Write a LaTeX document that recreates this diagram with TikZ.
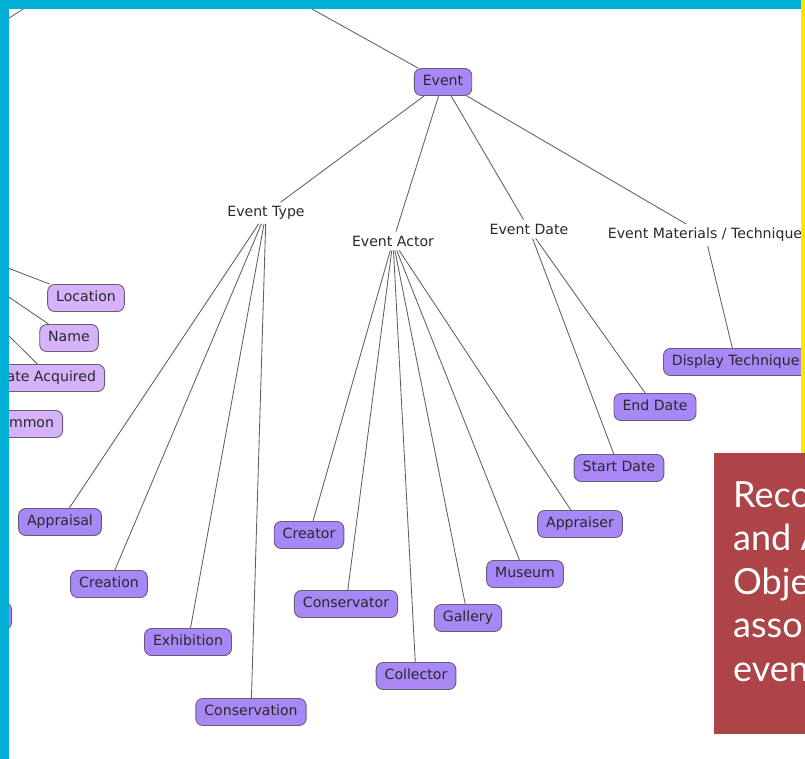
\documentclass[tikz,border=0pt]{standalone}
\usepackage{fontspec}
\setmainfont{DejaVu Sans}
\newfontfamily\slidefont{Lato}
\usepackage{xcolor}
\usepackage{tikz}
\usetikzlibrary{positioning}

\definecolor{framecyan}{RGB}{0,176,212}
\definecolor{edgeyellow}{RGB}{255,230,0}
\definecolor{notered}{RGB}{173,68,72}
\definecolor{leafpurple}{RGB}{168,136,246}
\definecolor{palepurple}{RGB}{214,178,250}
\definecolor{boxline}{RGB}{105,92,120}
\definecolor{linkgray}{RGB}{95,95,95}
\definecolor{labelgray}{RGB}{40,40,40}
\newcommand{\mapfont}{\fontsize{14.1}{16}\selectfont}

\begin{document}
\begin{tikzpicture}[
    x=1pt, y=-1pt,
    link/.style={draw=linkgray, line width=0.85pt},
    topic/.style={font=\mapfont, text=labelgray, inner sep=4pt},
    leaf/.style={rectangle, rounded corners=7pt, draw=boxline, line width=0.9pt, fill=leafpurple,
        font=\mapfont, text=labelgray, minimum height=27pt, inner xsep=8.5pt, text height=10pt, text depth=3pt},
    pale/.style={leaf, fill=palepurple}
]
    \useasboundingbox (0,0) rectangle (805,759);
    \clip (0,0) rectangle (805,759);

    % Event branch
    \node[leaf] (event) at (443,82) {Event};
    \coordinate (root) at (260,-20);
    \coordinate (tl1) at (0,24);
    \coordinate (tl2) at (37,0);

    \node[topic] (etype) at (266,213) {Event Type};
    \node[topic] (eactor) at (393,241) {Event Actor};
    \node[topic] (edate) at (529,229) {Event Date};
    \node[topic] (emat) at (705,235) {Event Materials / Technique};

    % Event Type
    \node[leaf] (appraisal) at (60,522) {Appraisal};
    \node[leaf] (creation) at (109,584) {Creation};
    \node[leaf] (exhibition) at (188,642) {Exhibition};
    \node[leaf] (conservation) at (251,712) {Conservation};

    % Event Actor
    \node[leaf] (creator) at (309,535) {Creator};
    \node[leaf] (conservator) at (346,604) {Conservator};
    \node[leaf] (collector) at (416,676) {Collector};
    \node[leaf] (gallery) at (468,618) {Gallery};
    \node[leaf] (museum) at (525,574) {Museum};
    \node[leaf] (appraiser) at (580,524) {Appraiser};

    % Event Date
    \node[leaf] (startdate) at (619,468) {Start Date};
    \node[leaf] (enddate) at (655,407) {End Date};

    % Event Materials
    \node[leaf, anchor=west] (display) at (663,362) {Display Technique};

    % left side
    \node[pale] (location) at (86,298) {Location};
    \node[pale] (name) at (69,338) {Name};
    \node[pale, anchor=east] (acquired) at (105,378) {ate Acquired};
    \node[pale, anchor=east] (common) at (63,424) {mmon};
    \node[leaf, anchor=east, minimum width=60pt] (stub) at (12,616) {};
    \coordinate (l1) at (0,265);
    \coordinate (l2) at (0,291);
    \coordinate (l3) at (0,327);

    \draw[link] (tl1) -- (tl2);
    \draw[link] (root) -- (event);
    \foreach \t in {etype, eactor, edate, emat}
        \draw[link] (event) -- (\t);
    \foreach \c in {appraisal, creation, exhibition, conservation}
        \draw[link] (etype) -- (\c);
    \foreach \c in {creator, conservator, collector, gallery, museum, appraiser}
        \draw[link] (eactor) -- (\c);
    \foreach \c in {startdate, enddate}
        \draw[link] (edate) -- (\c);
    \draw[link] (emat) -- (display);
    \draw[link] (l1) -- (location);
    \draw[link] (l2) -- (name);
    \draw[link] (l3) -- (acquired);

    % slide frame and note
    \fill[edgeyellow] (801,0) rectangle (805,453);
    \fill[notered] (714,453) rectangle (805,734);
    \node[anchor=north west, inner sep=0pt, align=left, text=white,
        font=\slidefont\fontsize{36}{43.5}\selectfont] (note) at (733,481) {Reco\\and A\\Obje\\asso\\even};
    \fill[framecyan] (0,0) rectangle (9,759);
    \fill[framecyan] (0,0) rectangle (801,9);
\end{tikzpicture}
\end{document}
